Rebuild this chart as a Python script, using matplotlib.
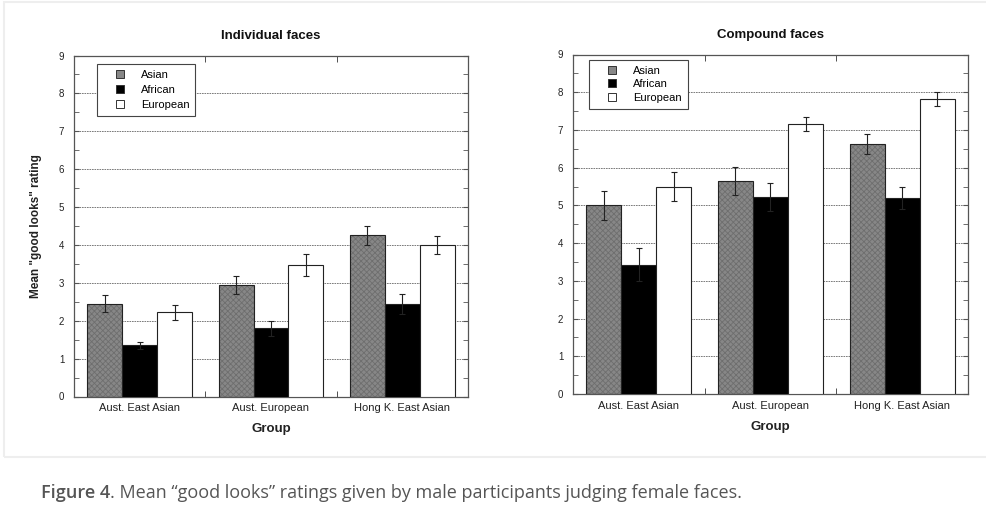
import matplotlib
matplotlib.use("Agg")
import matplotlib.pyplot as plt
from matplotlib.patches import Rectangle
from matplotlib.lines import Line2D
import numpy as np

groupes = ["Aust. East Asian", "Aust. European", "Hong K. East Asian"]
series = ["Asian", "African", "European"]

# Individual faces
indiv_asian = [2.45, 2.95, 4.25]
indiv_african = [1.35, 1.80, 2.45]
indiv_european = [2.22, 3.47, 4.00]
indiv_err_asian = [0.22, 0.24, 0.25]
indiv_err_african = [0.10, 0.20, 0.26]
indiv_err_european = [0.20, 0.28, 0.23]

# Compound faces
comp_asian = [5.00, 5.65, 6.62]
comp_african = [3.43, 5.22, 5.20]
comp_european = [5.50, 7.15, 7.82]
comp_err_asian = [0.38, 0.37, 0.26]
comp_err_african = [0.43, 0.38, 0.30]
comp_err_european = [0.39, 0.19, 0.18]

couleurs = ["#878787", "#000000", "#ffffff"]
POLICE = ["Liberation Sans", "DejaVu Sans"]
plt.rcParams["font.family"] = POLICE
plt.rcParams["hatch.linewidth"] = 0.6

W, H = 987, 513
fig = plt.figure(figsize=(W / 100, H / 100), dpi=100)


def px_axes(x0, y0, x1, y1):
    """axes placé en pixels (haut-gauche / bas-droite)"""
    return fig.add_axes([x0 / W, 1 - y1 / H, (x1 - x0) / W, (y1 - y0) / H])


def tracer_panneau(ax, valeurs, erreurs, titre, ylabel=None,
                   legende_pos=None, espacement=0.2):
    x = np.arange(len(groupes))
    largeur = 0.266
    for i, (vals, errs) in enumerate(zip(valeurs, erreurs)):
        pos = x + (i - 1) * largeur
        if i == 0:
            ax.bar(pos, vals, largeur, color=couleurs[i], edgecolor="#6e6e6e",
                   hatch="xxxxxx", linewidth=0, zorder=2)
            ax.bar(pos, vals, largeur, fill=False, edgecolor="#222222",
                   linewidth=0.8, zorder=3)
        else:
            ax.bar(pos, vals, largeur, color=couleurs[i], edgecolor="#222222",
                   linewidth=0.8, zorder=3)
        ax.errorbar(pos, vals, yerr=errs, fmt="none", ecolor="#222222",
                    elinewidth=0.8, capsize=2.2, capthick=0.8, zorder=4)
    ax.set_xlim(-0.5, 2.5)
    ax.set_ylim(0, 9)
    ax.set_yticks(range(10))
    ax.set_yticks(np.arange(0.5, 9, 1), minor=True)
    ax.set_xticks(x)
    ax.set_xticklabels(groupes, fontsize=8)
    ax.set_xticks([0.5, 1.5], minor=True)
    ax.tick_params(axis="x", which="major", length=0, pad=5, colors="#222222")
    ax.tick_params(axis="x", which="minor", direction="in", length=4,
                   top=True, bottom=True, color="#333333")
    ax.tick_params(axis="y", which="both", direction="in", length=3.5,
                   left=True, right=True, labelsize=7, color="#555555",
                   labelcolor="#222222", pad=7)
    for yv in range(1, 9):
        ax.axhline(yv, color="#666666", linewidth=0.6,
                   linestyle=(0, (2, 1)), zorder=1)
    for s in ax.spines.values():
        s.set_color("#555555")
        s.set_linewidth(0.9)
    ax.set_title(titre, fontsize=9.5, fontweight="bold", pad=12, color="#111111")
    ax.set_xlabel("Group", fontsize=9.5, fontweight="bold", labelpad=7,
                  color="#222222")
    if ylabel:
        ax.set_ylabel(ylabel, fontsize=8.5, fontweight="bold", labelpad=12,
                      color="#222222")
    poignees = [Line2D([], [], linestyle="none", marker="s", markersize=5.5,
                       markerfacecolor=c, markeredgecolor="#333333",
                       markeredgewidth=0.7) for c in couleurs]
    leg = ax.legend(poignees, series, loc="upper left", bbox_to_anchor=legende_pos,
                    fontsize=8, frameon=True, fancybox=False, handlelength=3.0,
                    handletextpad=0.4, labelspacing=espacement,
                    borderpad=0.55, borderaxespad=0, framealpha=1)
    leg.get_frame().set_edgecolor("#444444")
    leg.get_frame().set_linewidth(0.8)
    leg.set_zorder(6)


ax1 = px_axes(74, 55.5, 468, 396.5)
tracer_panneau(ax1, [indiv_asian, indiv_african, indiv_european],
               [indiv_err_asian, indiv_err_african, indiv_err_european],
               "Individual faces", 'Mean "good looks" rating', (0.058, 0.975), 0.43)

ax2 = px_axes(573, 54.5, 968, 394)
tracer_panneau(ax2, [comp_asian, comp_african, comp_european],
               [comp_err_asian, comp_err_african, comp_err_european],
               "Compound faces", None, (0.0405, 0.985), 0.31)

# cadre très clair autour de la figure
fig.patches.append(Rectangle((4 / W, 1 - 457 / H), 1, 455 / H,
                             transform=fig.transFigure, fill=False,
                             edgecolor="#eeeeee", linewidth=1.5))

# légende de la figure
t1 = fig.text(41 / W, 1 - 498 / H, "Figure 4", fontsize=13,
              family="Open Sans", fontweight="semibold", color="#555555",
              va="baseline")
fig.canvas.draw()
bb = t1.get_window_extent()
fig.text(bb.x1 / W, 1 - 498 / H,
         ". Mean \u201cgood looks\u201d ratings given by male participants judging female faces.",
         fontsize=13, family="Open Sans", color="#555555", va="baseline")

plt.savefig("out.png", dpi=100)
